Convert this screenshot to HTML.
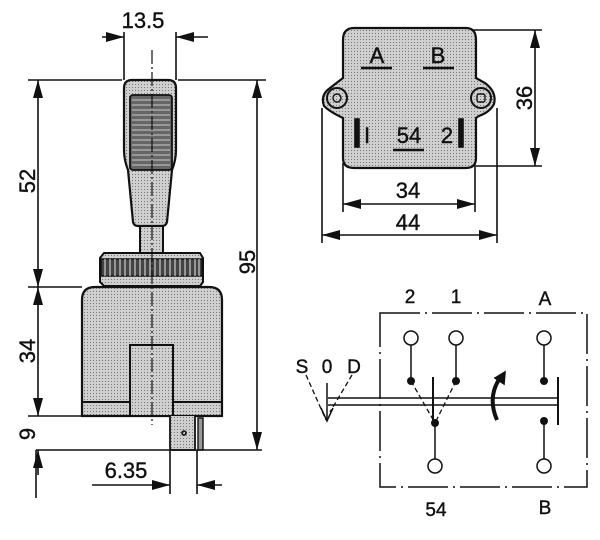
<!DOCTYPE html>
<html><head><style>body{margin:0;background:#fff}svg{display:block}text{font-family:"Liberation Sans",sans-serif;fill:#111;stroke:#111;stroke-width:0.4}</style></head><body>
<svg width="600" height="540" viewBox="0 0 600 540" xmlns="http://www.w3.org/2000/svg">
<defs>
<pattern id="st" width="3" height="3" patternUnits="userSpaceOnUse"><rect width="3" height="3" fill="#cfcfcf"/><rect width="1" height="1" fill="#777"/></pattern>
</defs>
<g stroke="#111" fill="none" stroke-width="1.6">
<!-- left drawing -->
<path d="M124,88 Q124,80 132,80 L168,80 Q176,80 176,88 L176,150 Q176,160 172,170 L167,222 Q166,226 162,226 L138,226 Q134,226 133,222 L128,170 Q124,160 124,150 Z" fill="url(#st)" stroke-width="2.2"/>
<rect x="130" y="95" width="42" height="75" rx="3" fill="#666" stroke-width="1.8"/>
<g stroke="#ccc" stroke-width="0.9"><path d="M132,100H170M132,105H170M132,110H170M132,115H170M132,120H170M132,125H170M132,130H170M132,135H170M132,140H170M132,145H170M132,150H170M132,155H170M132,160H170M132,165H170"/></g>
<rect x="140" y="226" width="23" height="27" fill="url(#st)" stroke-width="2"/>
<path d="M104,253 L200,253 L203,258 L203,282 L200,286 L104,286 L100,282 L100,258 Z" fill="url(#st)" stroke-width="2"/>
<rect x="101" y="259" width="101" height="17" fill="#444" stroke-width="1.4"/>
<g stroke="#ccc" stroke-width="1.2"><path d="M105,259v17M110,259v17M115,259v17M120,259v17M125,259v17M130,259v17M135,259v17M140,259v17M145,259v17M150,259v17M155,259v17M160,259v17M165,259v17M170,259v17M175,259v17M180,259v17M185,259v17M190,259v17M195,259v17M199,259v17"/></g>
<path d="M82,416 L82,300 Q82,287 95,287 L209,287 Q222,287 222,300 L222,416 Z" fill="url(#st)" stroke-width="2.2"/>
<path d="M82,402H222" stroke-width="2"/>
<rect x="130" y="345" width="43" height="71" fill="url(#st)" stroke-width="2"/>
<path d="M170,416 L170,448 Q170,450 173,450 L195,450 L195,416" fill="url(#st)" stroke-width="1.8"/>
<circle cx="184" cy="433" r="2"/>
<rect x="198" y="418" width="5" height="32" fill="#999" stroke-width="1.4"/>
<path d="M152,50V425" stroke-dasharray="14,3,2,3" stroke-width="1.2"/>
<!-- dims left -->
<path d="M124,32V80M176,32V80"/>
<path d="M102,37H124M208,37H176"/>
<path d="M28,80H122M178,80H266M28,287H82M28,416H82M36,450H262"/>
<path d="M38,80V416M38,450V475"/>
<path d="M36,450V498"/>
<path d="M257,80V450"/>
<path d="M170,450V494M197,450V494"/>
<path d="M92,485H170M222,485H197"/>
<!-- top right -->
<path d="M354,28 L466,28 Q476,28 476,40 L476,78 L485,83 Q497,92 494,104 Q490,112 479,116 L476,118 L476,158 Q476,168 466,168 L354,168 Q343,168 343,158 L343,118 Q330,112 324,106 Q320,95 330,88 L343,78 L343,40 Q343,28 354,28 Z" fill="url(#st)" stroke-width="2.2"/>
<circle cx="337" cy="98" r="10" fill="url(#st)" stroke-width="2"/><circle cx="337" cy="98" r="4" stroke-width="1.4"/>
<circle cx="481" cy="98" r="10" fill="url(#st)" stroke-width="2"/><rect x="477" y="94" width="8" height="8" rx="2" stroke-width="1.4"/>
<path d="M361,68H392M423,68H454M393,150H424" stroke-width="2.5"/>
<rect x="355" y="119" width="4" height="28" fill="#111"/><rect x="459" y="119" width="4" height="28" fill="#111"/>
<path d="M472,30H542M476,166H542M343,163V212M475,163V212M322,108V243M497,108V243"/>
<path d="M535,30V166M343,204H475M322,235H497"/>
<!-- schematic -->
<path d="M380,313H587V487H380Z" stroke-dasharray="40,5,2,5" stroke-width="1.5"/>
<g fill="#fff" stroke-width="1.5"><circle cx="411" cy="338" r="7"/><circle cx="456" cy="338" r="7"/><circle cx="544" cy="338" r="7"/><circle cx="435" cy="466" r="7"/><circle cx="544" cy="466" r="7"/></g>
<path d="M411,345V381M456,345V381M544,345V381M435,423V459M544,421V459" stroke-width="1.5"/>
<g fill="#111" stroke="none"><circle cx="411" cy="381" r="4"/><circle cx="456" cy="381" r="4"/><circle cx="544" cy="381" r="4"/><circle cx="435" cy="423" r="4"/><circle cx="544" cy="421" r="4"/></g>
<path d="M558,377V425M433,377V420" stroke-width="2"/>
<path d="M328,398H558M328,405H558" stroke-width="1.5"/>
<path d="M411,381L435,423M456,381L435,423M306,375L326,420M352,375L330,412" stroke-dasharray="5,3" stroke-width="1.3"/>
<path d="M327,383V421" stroke-width="1.5"/>
<path d="M321,408L327,421L333,408" stroke-width="1.5"/>
<path d="M497,420 Q487,397 500,378" stroke-width="4"/>
<path d="M495,378L505,372L504,384Z" fill="#111"/>
</g>
<g fill="#111">
<polygon points="106,32 124,37 106,42"/><polygon points="194,32 176,37 194,42"/>
<polygon points="33,98 38,80 43,98"/><polygon points="33,269 38,287 43,269"/>
<polygon points="33,305 38,287 43,305"/><polygon points="33,398 38,416 43,398"/>
<polygon points="33,468 38,450 43,468"/>
<polygon points="252,98 257,80 262,98"/><polygon points="252,432 257,450 262,432"/>
<polygon points="152,480 170,485 152,490"/><polygon points="215,480 197,485 215,490"/>
<polygon points="530,48 535,30 540,48"/><polygon points="530,148 535,166 540,148"/>
<polygon points="361,199 343,204 361,209"/><polygon points="457,199 475,204 457,209"/>
<polygon points="340,230 322,235 340,240"/><polygon points="479,230 497,235 479,240"/>
</g>
<g font-size="22">
<text x="143" y="28" text-anchor="middle">13.5</text>
<text transform="translate(35,181) rotate(-90)" text-anchor="middle">52</text>
<text transform="translate(35,351) rotate(-90)" text-anchor="middle">34</text>
<text transform="translate(35,434) rotate(-90)" text-anchor="middle">9</text>
<text transform="translate(255,262) rotate(-90)" text-anchor="middle">95</text>
<text x="126" y="478" text-anchor="middle">6.35</text>
<text x="377" y="63" text-anchor="middle">A</text><text x="438" y="63" text-anchor="middle">B</text>
<text x="409" y="143" text-anchor="middle">54</text><text x="447" y="143" text-anchor="middle">2</text><text x="367" y="143" text-anchor="middle">I</text>
<text transform="translate(532,98) rotate(-90)" text-anchor="middle">36</text>
<text x="408" y="198" text-anchor="middle">34</text><text x="408" y="230" text-anchor="middle">44</text>
<g font-size="19">
<text x="410" y="303" text-anchor="middle">2</text><text x="456" y="303" text-anchor="middle">1</text><text x="545" y="305" text-anchor="middle">A</text>
<text x="302" y="373" text-anchor="middle">S</text><text x="327" y="373" text-anchor="middle">0</text><text x="354" y="373" text-anchor="middle">D</text>
<text x="436" y="516" text-anchor="middle">54</text><text x="545" y="514" text-anchor="middle">B</text>
</g>
</g>
</svg>
</body></html>
